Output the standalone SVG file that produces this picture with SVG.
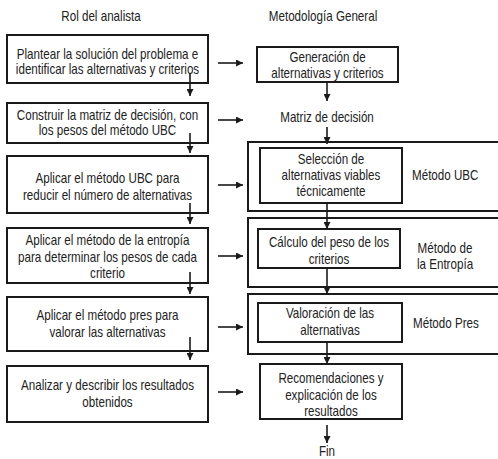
<svg xmlns="http://www.w3.org/2000/svg" width="498" height="459" viewBox="0 0 498 459">
<defs>
<marker id="ah" viewBox="0 0 10 10" refX="10" refY="5" markerWidth="7" markerHeight="7" markerUnits="userSpaceOnUse" orient="auto">
<path d="M0,0 L10,5 L0,10 Z" fill="#1a1a1a"/>
</marker>
<style>
text{font-family:"Liberation Sans",Arial,sans-serif;font-size:14px;fill:#222;text-anchor:middle}
.box{fill:#fff;stroke:#1a1a1a;stroke-width:2}
.outer{fill:none;stroke:#1a1a1a;stroke-width:2}
.conn{stroke:#1a1a1a;stroke-width:1.6;fill:none;marker-end:url(#ah)}
.lbl{text-anchor:start}
</style>
</defs>
<rect width="498" height="459" fill="#fff"/>
<text transform="translate(101,21) scale(.83,1)">Rol del analista</text>
<text transform="translate(323,21) scale(.83,1)">Metodología General</text>

<g id="outer-ubc"><path class="outer" d="M500,142 H248 V211 H500"/><text class="lbl" transform="translate(412,180) scale(.83,1)">Método UBC</text></g>
<g id="outer-entropia"><path class="outer" d="M500,218 H248 V287 H500"/><text transform="translate(445,253) scale(.83,1)">Método de</text><text transform="translate(445,269) scale(.83,1)">la Entropía</text></g>
<g id="outer-pres"><path class="outer" d="M500,294 H248 V354 H500"/><text class="lbl" transform="translate(413,328) scale(.83,1)">Método Pres</text></g>

<g id="l1"><rect class="box" x="7" y="35" width="201" height="48"/><text transform="translate(107.5,59) scale(.83,1)">Plantear la solución del problema e</text><text transform="translate(107.5,74) scale(.83,1)">identificar las alternativas y criterios</text></g>
<g id="l2"><rect class="box" x="7" y="103" width="201" height="40"/><text transform="translate(107.5,120) scale(.83,1)">Construir la matriz de decisión, con</text><text transform="translate(107.5,135) scale(.83,1)">los pesos del método UBC</text></g>
<g id="l3"><rect class="box" x="7" y="156" width="201" height="57"/><text transform="translate(107.5,183) scale(.83,1)">Aplicar el método UBC para</text><text transform="translate(107.5,200) scale(.83,1)">reducir el número de alternativas</text></g>
<g id="l4"><rect class="box" x="7" y="228" width="201" height="55"/><text transform="translate(107.5,245) scale(.83,1)">Aplicar el método de la entropía</text><text transform="translate(107.5,262) scale(.83,1)">para determinar los pesos de cada</text><text transform="translate(107.5,278) scale(.83,1)">criterio</text></g>
<g id="l5"><rect class="box" x="7" y="297" width="201" height="54"/><text transform="translate(107.5,320) scale(.83,1)">Aplicar el método pres para</text><text transform="translate(107.5,337) scale(.83,1)">valorar las alternativas</text></g>
<g id="l6"><rect class="box" x="7" y="366" width="201" height="56"/><text transform="translate(107.5,390) scale(.83,1)">Analizar y describir los resultados</text><text transform="translate(107.5,407) scale(.83,1)">obtenidos</text></g>

<g id="r1"><rect class="box" x="257" y="47" width="141" height="35"/><text transform="translate(327.5,62) scale(.83,1)">Generación de</text><text transform="translate(327.5,78) scale(.83,1)">alternativas y criterios</text></g>
<g id="r2"><text transform="translate(327,122) scale(.83,1)">Matriz de decisión</text></g>
<g id="r3"><rect class="box" x="260" y="148" width="142" height="55"/><text transform="translate(331,164) scale(.83,1)">Selección de</text><text transform="translate(331,180) scale(.83,1)">alternativas viables</text><text transform="translate(331,196) scale(.83,1)">técnicamente</text></g>
<g id="r4"><rect class="box" x="258" y="229" width="142" height="39"/><text transform="translate(329,247) scale(.83,1)">Cálculo del peso de los</text><text transform="translate(329,264) scale(.83,1)">criterios</text></g>
<g id="r5"><rect class="box" x="258" y="303" width="144" height="39"/><text transform="translate(330,318) scale(.83,1)">Valoración de las</text><text transform="translate(330,335) scale(.83,1)">alternativas</text></g>
<g id="r6"><rect class="box" x="260" y="364" width="142" height="55"/><text transform="translate(331,383) scale(.83,1)">Recomendaciones y</text><text transform="translate(331,400) scale(.83,1)">explicación de los</text><text transform="translate(331,416) scale(.83,1)">resultados</text></g>
<g id="r7"><text transform="translate(327,456) scale(.83,1)">Fin</text></g>

<g id="connectors">
<line class="conn" x1="190" y1="73" x2="190" y2="96"/>
<line class="conn" x1="190" y1="133" x2="190" y2="153"/>
<line class="conn" x1="190" y1="203" x2="190" y2="224"/>
<line class="conn" x1="190" y1="272" x2="190" y2="294"/>
<line class="conn" x1="190" y1="337" x2="190" y2="360"/>
<line class="conn" x1="218" y1="63" x2="243" y2="63"/>
<line class="conn" x1="218" y1="120" x2="243" y2="120"/>
<line class="conn" x1="218" y1="185" x2="243" y2="185"/>
<line class="conn" x1="218" y1="256" x2="243" y2="256"/>
<line class="conn" x1="218" y1="327" x2="243" y2="327"/>
<line class="conn" x1="218" y1="392" x2="243" y2="392"/>
<line class="conn" x1="327" y1="83" x2="327" y2="101"/>
<line class="conn" x1="327" y1="127" x2="327" y2="144"/>
<line class="conn" x1="327" y1="204" x2="327" y2="229"/>
<line class="conn" x1="327" y1="268" x2="327" y2="294"/>
<line class="conn" x1="327" y1="342" x2="327" y2="364"/>
<line class="conn" x1="327" y1="425" x2="327" y2="443"/>
</g>
</svg>
